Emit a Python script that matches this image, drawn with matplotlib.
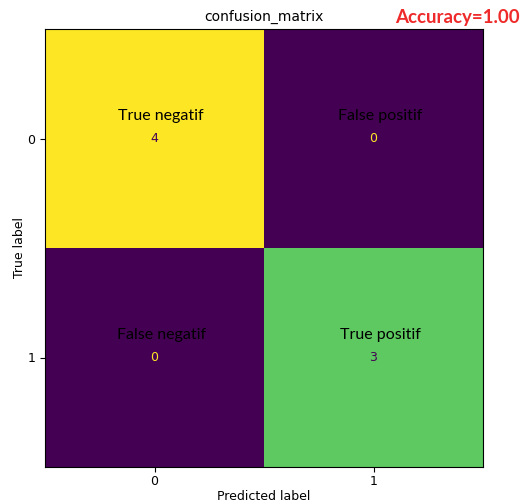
import matplotlib
matplotlib.use("Agg")
import matplotlib.pyplot as plt
import numpy as np

cm = np.array([[4, 0], [0, 3]])
cell_labels = [["True negatif", "False positif"], ["False negatif", "True positif"]]
tick_labels = ["0", "1"]
accuracy = 1.00

fig = plt.figure(figsize=(5.2, 5.04), dpi=100)
ax = fig.add_axes([45/520, 1 - 467/504, 438/520, 438/504])
cmap = plt.get_cmap("viridis")
im = ax.imshow(cm, cmap=cmap, interpolation="nearest", aspect="auto")
vmin, vmax = cm.min(), cm.max()
thresh = (vmax + vmin) / 2
for i in range(2):
    for j in range(2):
        color = cmap(0.0) if cm[i, j] > thresh else cmap(1.0)
        ax.text(j, i, str(cm[i, j]), ha="center", va="center", color=color, fontsize=9)
        ax.text(j + 0.03, i - 0.105, cell_labels[i][j], ha="center", va="center",
                color="black", fontsize=11.5, family="Lato")
ax.set_xticks(range(2))
ax.set_yticks(range(2))
ax.set_xticklabels(tick_labels)
ax.set_yticklabels(tick_labels)
ax.set_xlabel("Predicted label", fontsize=9, labelpad=1)
ax.set_ylabel("True label", fontsize=9, labelpad=1)
ax.tick_params(labelsize=9)
ax.tick_params(axis="x", pad=2.5)
ax.set_title("confusion_matrix", fontsize=10)
fig.text(1.0, 1 - 17/504, f"Accuracy={accuracy:.2f}", ha="right", va="center",
         color="#ee2a2a", fontsize=13.5, fontweight="bold", family="Lato")
fig.savefig("out.png", dpi=100)
